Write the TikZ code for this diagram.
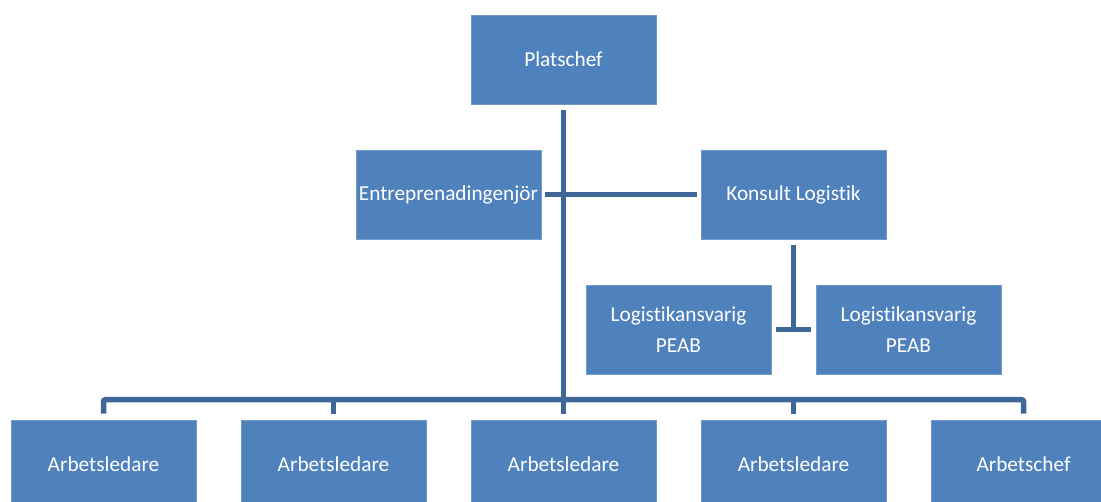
\documentclass[tikz,border=0pt]{standalone}
\usepackage{fontspec}
\setmainfont{Carlito}[Ligatures={NoCommon}]
\definecolor{boxblue}{HTML}{4F81BD}
\definecolor{lineblue}{HTML}{3F6898}
\begin{document}
\begin{tikzpicture}[x=1pt,y=-1pt,
  box/.style={rectangle, minimum width=185pt, minimum height=89pt, inner sep=0pt,
    fill=boxblue, draw=boxblue!80!white, line width=0.6pt, text=white, align=center,
    font=\fontsize{21.3}{31}\selectfont},
  conn/.style={draw=lineblue, line width=5.5pt}]
\useasboundingbox (0,0) rectangle (1101,501);
\clip (0,0) rectangle (1101,501);
\node[box] (plat) at (563.5,59.5) {Platschef};
\node[box] (ent) at (448.5,194.5) {Entreprenadingenjör};
\node[box] (kon) at (793.5,194.5) {Konsult Logistik};
\node[box] (log1) at (678.5,329.5) {Logistikansvarig\\PEAB};
\node[box] (log2) at (908.5,329.5) {Logistikansvarig\\PEAB};
\node[box] (a1) at (103.5,464.5) {Arbetsledare};
\node[box] (a2) at (333.5,464.5) {Arbetsledare};
\node[box] (a3) at (563.5,464.5) {Arbetsledare};
\node[box] (a4) at (793.5,464.5) {Arbetsledare};
\node[box] (a5) at (1023.5,464.5) {Arbetschef};
% bus
\draw[conn, rounded corners=2pt] ([yshift=6pt]a1.north) -- ++(0,-14) -| ([yshift=6pt]a5.north);
\draw[conn] ([yshift=6pt]a2.north) -- ++(0,-14);
\draw[conn] ([yshift=6pt]a4.north) -- ++(0,-14);
% main trunk
\draw[conn] ([yshift=-6pt]plat.south) -- ([yshift=6pt]a3.north);
% side branch
\draw[conn] ([xshift=4pt]ent.east) -- ([xshift=-4pt]kon.west);
% Konsult to Logistik
\coordinate (t) at (kon.south |- log1.east);
\draw[conn] ([yshift=-6pt]kon.south) -- (t);
\draw[conn] ([xshift=5pt]log1.east) -- ([xshift=-5pt]log2.west);
\end{tikzpicture}
\end{document}
